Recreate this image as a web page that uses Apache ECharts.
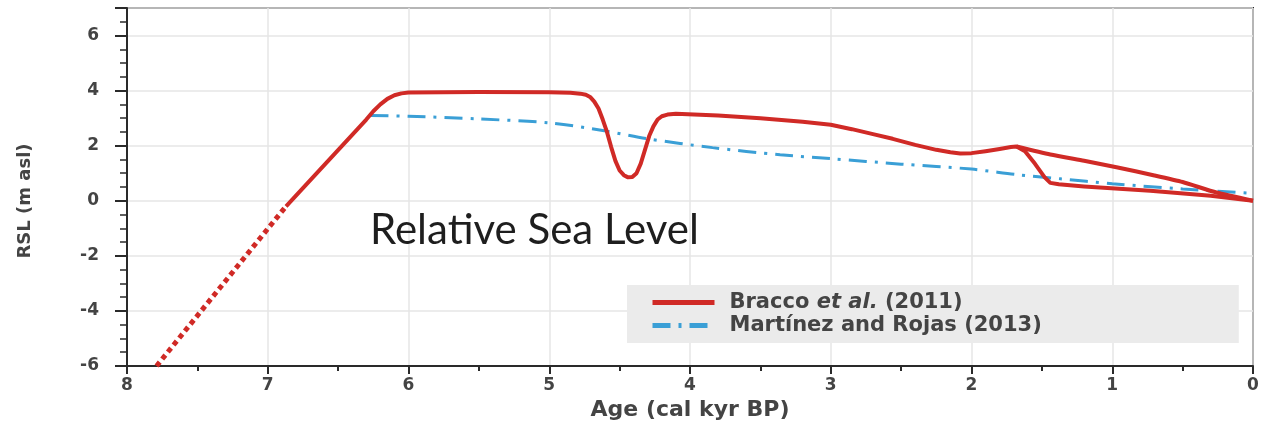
<!DOCTYPE html>
<html>
<head>
<meta charset="utf-8">
<script src="https://cdn.jsdelivr.net/npm/echarts@6/dist/echarts.min.js"></script>
<style>
  html, body { margin: 0; padding: 0; background: #ffffff; }
  #chart { width: 1271px; height: 427px; }
</style>
</head>
<body>
<div id="chart"></div>
<script>
// ---- Data ----
// Bracco et al. (2011): extrapolated (dotted) early rise
const brDottedAge = [7.79, 6.87];
const brDottedRsl = [-6.0, -0.2];
// Bracco et al. (2011): main solid curve (including lower late branch)
const brMainAge = [6.87, 6.3, 6.25, 6.2, 6.15, 6.1, 6.05, 6.0, 5.5, 5.0, 4.85, 4.78, 4.74, 4.71, 4.68, 4.65, 4.62, 4.59, 4.56, 4.53, 4.5, 4.47, 4.44, 4.41, 4.38, 4.35, 4.32, 4.29, 4.26, 4.23, 4.2, 4.16, 4.1, 3.8, 3.5, 3.2, 3.0, 2.85, 2.7, 2.56, 2.4, 2.25, 2.15, 2.08, 2.0, 1.9, 1.8, 1.72, 1.68, 1.62, 1.55, 1.48, 1.44, 1.38, 1.2, 0.73, 0.3, 0.0];
const brMainRsl = [-0.2, 2.95, 3.25, 3.5, 3.7, 3.83, 3.9, 3.93, 3.95, 3.94, 3.92, 3.89, 3.85, 3.77, 3.6, 3.35, 2.95, 2.5, 1.95, 1.45, 1.1, 0.93, 0.85, 0.86, 1.0, 1.35, 1.85, 2.35, 2.7, 2.95, 3.07, 3.13, 3.16, 3.1, 3.0, 2.87, 2.76, 2.6, 2.42, 2.25, 2.03, 1.85, 1.76, 1.72, 1.73, 1.8, 1.88, 1.95, 1.97, 1.8, 1.35, 0.85, 0.65, 0.6, 0.52, 0.36, 0.18, 0.0];
// Bracco et al. (2011): upper late branch
const brUpperAge = [1.68, 1.44, 1.2, 0.97, 0.7, 0.5, 0.26, 0.0];
const brUpperRsl = [1.97, 1.68, 1.45, 1.22, 0.92, 0.68, 0.3, 0.0];
// Martínez and Rojas (2013)
const mrAge = [6.27, 6.0, 5.5, 5.0, 4.62, 4.3, 3.84, 3.36, 3.0, 2.5, 2.0, 1.68, 1.37, 1.0, 0.5, 0.0];
const mrRsl = [3.1, 3.07, 2.97, 2.83, 2.55, 2.25, 1.93, 1.67, 1.53, 1.33, 1.15, 0.95, 0.8, 0.62, 0.43, 0.27];

const seriesNames = ['Bracco et al. (2011)', 'Martínez and Rojas (2013)'];
const xTicks = [8, 7, 6, 5, 4, 3, 2, 1, 0];
const yTicks = [-6, -4, -2, 0, 2, 4, 6];
const annotation = 'Relative Sea Level';
const xName = 'Age (cal kyr BP)';
const yName = 'RSL (m asl)';

function zip(a, b) { return a.map((v, i) => [v, b[i]]); }

const RED = '#d02a26';
const BLUE = '#3a9fd6';
const TXT = '#444444';
const FONT = 'DejaVu Sans';

const chart = echarts.init(document.getElementById('chart'));
chart.setOption({
  backgroundColor: '#ffffff',
  animation: false,
  grid: {
    left: 127, right: 18, top: 8, bottom: 61,
    show: true, borderColor: '#2a2a2a', borderWidth: 2, backgroundColor: 'transparent'
  },
  xAxis: {
    type: 'value', min: 0, max: 8, interval: 1, inverse: true,
    name: xName, nameLocation: 'middle', nameGap: 33,
    nameTextStyle: { fontFamily: FONT, fontSize: 22, fontWeight: 'bold', color: TXT },
    axisLine: { show: true, onZero: false, lineStyle: { color: '#2a2a2a', width: 2 } },
    axisTick: { show: true, length: 8, lineStyle: { color: '#2a2a2a', width: 2 } },
    minorTick: { show: true, splitNumber: 2, length: 5, lineStyle: { color: '#2a2a2a', width: 2 } },
    axisLabel: {
      margin: 11, fontFamily: FONT, fontSize: 17, fontWeight: 'bold', color: TXT,
      formatter: v => xTicks.includes(v) ? String(v) : ''
    },
    splitLine: { show: true, lineStyle: { color: '#e6e6e6', width: 1.5 } }
  },
  yAxis: {
    type: 'value', min: -6, max: 7, interval: 2,
    axisLine: { show: true, onZero: false, lineStyle: { color: '#2a2a2a', width: 2 } },
    axisTick: { show: true, length: 12, lineStyle: { color: '#2a2a2a', width: 2 } },
    minorTick: { show: true, splitNumber: 4, length: 7, lineStyle: { color: '#2a2a2a', width: 1.5 } },
    axisLabel: {
      margin: 28, fontFamily: FONT, fontSize: 17, fontWeight: 'bold', color: TXT, showMaxLabel: false,
      formatter: v => yTicks.includes(v) ? String(v) : ''
    },
    splitLine: { show: true, lineStyle: { color: '#e6e6e6', width: 1.5 } }
  },
  legend: {
    orient: 'vertical', left: 627, top: 285,
    data: seriesNames,
    backgroundColor: '#ebebeb', borderWidth: 0,
    padding: [7, 197, 7, 23],
    itemWidth: 62, itemHeight: 12, itemGap: 2,
    itemStyle: { opacity: 0 },
    lineStyle: { width: 5 },
    textStyle: {
      fontFamily: FONT, fontSize: 21, fontWeight: 'bold', color: TXT, padding: [0, 0, 0, 10],
      rich: {
        n: { fontFamily: FONT, fontSize: 21, fontWeight: 'bold', color: TXT },
        i: { fontFamily: FONT, fontSize: 21, fontWeight: 'bold', color: TXT, fontStyle: 'italic' }
      }
    },
    formatter: function (name) {
      if (name === seriesNames[0]) return '{n|Bracco }{i|et al.}{n| (2011)}';
      return '{n|' + name + '}';
    }
  },
  graphic: [
    {
      type: 'text', left: 370, top: 209, z: 100,
      style: { text: annotation, fontFamily: 'Lato', fontSize: 42, fill: '#1e1e1e' }
    },
    {
      type: 'text', x: 25, y: 201, rotation: Math.PI / 2, z: 100,
      style: { text: yName, fontFamily: FONT, fontSize: 18, fontWeight: 'bold', fill: TXT, align: 'center', verticalAlign: 'middle' }
    }
  ],
  series: [
    {
      name: seriesNames[0], type: 'line', data: zip(brMainAge, brMainRsl),
      symbol: 'none', smooth: false, z: 5,
      lineStyle: { color: RED, width: 4, join: 'round' }, itemStyle: { color: RED }
    },
    {
      name: seriesNames[0], type: 'line', data: zip(brUpperAge, brUpperRsl),
      symbol: 'none', smooth: 0.2, z: 5,
      lineStyle: { color: RED, width: 4 }, itemStyle: { color: RED }
    },
    {
      name: seriesNames[0], type: 'line', data: zip(brDottedAge, brDottedRsl),
      symbol: 'none', z: 5,
      lineStyle: { color: RED, width: 5, type: [5, 4] }, itemStyle: { color: RED }
    },
    {
      name: seriesNames[1], type: 'line', data: zip(mrAge, mrRsl),
      symbol: 'none', smooth: 0.3, z: 4,
      lineStyle: { color: BLUE, width: 3, type: [18, 8, 3, 8] }, itemStyle: { color: BLUE }
    }
  ]
});
</script>
</body>
</html>
